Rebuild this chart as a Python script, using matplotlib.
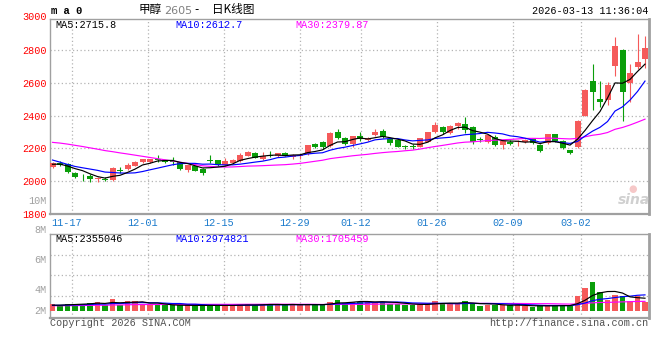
import matplotlib
matplotlib.use('Agg')
import matplotlib.pyplot as plt
import matplotlib.transforms as mtransforms
import numpy as np
import pandas as pd

# ---------------- data ----------------
date_labels = ['11-17', '12-01', '12-15', '12-29', '01-12', '01-26', '02-09', '03-02']
date_index = [3, 13, 23, 33, 41, 51, 61, 70]

opens = [2083, 2108, 2102, 2050, 2033, 2032, 2011, 2015, 2003, 2066,
         2074, 2094, 2114, 2115, 2132, 2124, 2121, 2115, 2069, 2089,
         2075, 2128, 2127, 2095, 2109, 2121, 2152, 2172, 2136, 2158,
         2152, 2174, 2145, 2150, 2164, 2226, 2236, 2213, 2299, 2265,
         2228, 2277, 2248, 2282, 2308, 2259, 2249, 2212, 2212, 2210,
         2238, 2298, 2329, 2293, 2333, 2351, 2328, 2257, 2237, 2270,
         2221, 2240, 2236, 2238, 2254, 2222, 2232, 2287, 2245, 2189,
         2209, 2400, 2609, 2500, 2497, 2700, 2798, 2597, 2695, 2745]
highs = [2115, 2122, 2110, 2052, 2045, 2042, 2025, 2022, 2086, 2085,
         2110, 2125, 2137, 2137, 2160, 2130, 2145, 2118, 2099, 2092,
         2078, 2156, 2130, 2139, 2133, 2170, 2186, 2176, 2176, 2182,
         2174, 2180, 2162, 2166, 2222, 2234, 2242, 2297, 2319, 2270,
         2276, 2299, 2270, 2320, 2320, 2262, 2255, 2220, 2224, 2262,
         2300, 2358, 2337, 2345, 2360, 2390, 2337, 2266, 2282, 2278,
         2248, 2248, 2250, 2256, 2258, 2226, 2290, 2290, 2250, 2192,
         2370, 2560, 2718, 2610, 2607, 2879, 2805, 2716, 2900, 2885]
lows = [2078, 2092, 2048, 2020, 2000, 1995, 1992, 2000, 2000, 2050,
        2067, 2092, 2112, 2111, 2115, 2110, 2095, 2068, 2055, 2058,
        2034, 2110, 2092, 2090, 2105, 2115, 2150, 2138, 2130, 2145,
        2148, 2152, 2135, 2135, 2160, 2200, 2198, 2205, 2258, 2218,
        2208, 2245, 2244, 2275, 2262, 2222, 2205, 2196, 2198, 2206,
        2236, 2295, 2285, 2290, 2320, 2295, 2225, 2238, 2233, 2214,
        2198, 2218, 2212, 2230, 2228, 2180, 2228, 2240, 2198, 2165,
        2200, 2395, 2432, 2453, 2465, 2640, 2368, 2481, 2685, 2690]
closes = [2109, 2100, 2052, 2027, 2028, 2012, 2016, 2005, 2080, 2060,
          2100, 2117, 2132, 2133, 2128, 2117, 2118, 2075, 2095, 2061,
          2050, 2124, 2095, 2121, 2129, 2160, 2178, 2140, 2152, 2153,
          2172, 2158, 2158, 2158, 2220, 2207, 2207, 2294, 2263, 2229,
          2274, 2255, 2262, 2302, 2270, 2235, 2209, 2208, 2206, 2261,
          2299, 2345, 2298, 2339, 2353, 2310, 2240, 2250, 2279, 2219,
          2245, 2226, 2246, 2250, 2233, 2186, 2287, 2246, 2204, 2173,
          2366, 2555, 2544, 2485, 2585, 2828, 2545, 2660, 2728, 2810]
# closes before the visible window (needed by the moving averages)
prior_closes = [2230, 2240, 2250, 2245, 2260, 2255, 2270, 2275, 2285, 2300,
                2330, 2345, 2350, 2340, 2335, 2320, 2310, 2300, 2285, 2275,
                2230, 2190, 2150, 2110, 2090, 2095, 2110, 2106, 2090]

volumes = [1.19, 1.00, 1.32, 1.32, 1.32, 1.51, 1.70, 1.00, 2.27, 1.00,
           1.89, 1.89, 1.32, 1.10, 1.10, 1.00, 1.00, 1.00, 1.00, 1.00,
           1.00, 1.00, 1.00, 1.00, 1.00, 1.19, 1.19, 1.00, 1.19, 1.32,
           1.19, 1.00, 1.19, 1.00, 1.32, 1.19, 1.00, 1.70, 2.08, 1.51,
           1.70, 1.70, 1.70, 1.70, 1.70, 1.32, 1.32, 1.00, 1.00, 1.32,
           1.30, 1.80, 1.45, 1.30, 1.30, 1.80, 1.45, 0.85, 1.10, 1.10,
           1.10, 1.00, 1.00, 0.85, 0.75, 1.00, 1.00, 1.00, 1.00, 0.85,
           2.80, 4.20, 5.50, 3.50, 2.10, 2.90, 2.70, 1.90, 2.70, 1.60]
prior_volumes = [0.95, 0.90, 0.85, 0.90, 0.95, 0.90, 0.85, 0.90, 0.95, 0.90,
                 0.85, 0.90, 0.95, 0.90, 0.85, 0.90, 0.95, 0.90, 0.85, 0.90,
                 1.00, 0.95, 1.00, 1.05, 1.00, 0.95, 1.00, 1.05, 1.00]

# ---------------- style ----------------
W, H = 660, 360
RED = '#F55A5A'
GREEN = '#0A9E0A'
FRAME = '#A0A0A0'
GRID = '#B4B4B4'
DATEC = '#1A7ACC'
MONO = 'Liberation Mono'
CJK = ['Noto Sans CJK SC', 'DejaVu Sans']
plt.rcParams['font.family'] = [MONO, 'DejaVu Sans']

def fx(x):
    return x / W

def fy(y):
    return 1 - y / H

fig = plt.figure(figsize=(6.6, 3.6), dpi=100)
fig.patch.set_facecolor('white')

L, R = 50, 649
ax = fig.add_axes([fx(L), fy(213.7), (R - L) / W, (213.7 - 19) / H])
axv = fig.add_axes([fx(L), fy(318.3), (R - L) / W, (318.3 - 234.3) / H])

n = len(closes)
x = np.arange(n)
o = np.array(opens, float)
h = np.array(highs, float)
lo = np.array(lows, float)
c = np.array(closes, float)
up = c >= o
cols = np.where(up, RED, GREEN)

px_per_idx = 7.5
xmin = -2.5 / px_per_idx
xmax = (R - L - 2.5) / px_per_idx

# ---- price panel ----
ax.vlines(x, lo, h, colors=cols, linewidth=0.8, zorder=3)
body_bot = np.minimum(o, c)
body_h = np.maximum(np.abs(c - o), 3.5)
ax.bar(x, body_h, bottom=body_bot - np.where(np.abs(c - o) < 3.5, 1.75, 0),
       width=0.8, color=cols, linewidth=0, zorder=4)

allc = pd.Series(prior_closes + closes, dtype=float)
k = len(prior_closes)
ma5 = allc.rolling(5).mean().values[k:]
ma10 = allc.rolling(10).mean().values[k:]
ma30 = allc.rolling(30).mean().values[k:]
ax.plot(x, ma30, color='#FF00FF', lw=0.85, zorder=5)
ax.plot(x, ma10, color='#0000FF', lw=0.85, zorder=5)
ax.plot(x, ma5, color='#000000', lw=0.85, zorder=6)

ax.set_xlim(xmin, xmax)
ax.set_ylim(1800, 2990)
price_ticks = [1800, 2000, 2200, 2400, 2600, 2800]
ax.set_yticks(price_ticks)
ax.set_yticklabels([str(t) for t in price_ticks], color='#FF0000', fontsize=7.3, family=MONO)
ax.tick_params(axis='y', length=0, pad=2.6)
for t in price_ticks[1:]:
    ax.axhline(t, color=GRID, lw=0.9, ls=(0, (1, 2)), zorder=1)
ax.text(-3.4 / (R - L), 3000, '3000', color='#FF0000', fontsize=7.3, family=MONO,
        ha='right', va='center', transform=mtransforms.blended_transform_factory(ax.transAxes, ax.transData),
        clip_on=False)

# date grid positions (sina spaces the date grid slightly wider than candles)
grid_px = [72 + (d - date_index[0]) * 7.597 for d in date_index]
grid_x = [(g - L - 2.5) / px_per_idx for g in grid_px]
for gx in grid_x:
    ax.axvline(gx, color=GRID, lw=0.9, ls=(0, (1, 2)), zorder=1)
    axv.axvline(gx, color=GRID, lw=0.9, ls=(0, (1, 2)), zorder=1)
ax.set_xticks([g - 5 / px_per_idx for g in grid_x])
ax.set_xticklabels(date_labels, color=DATEC, fontsize=7.3, family=MONO)
ax.tick_params(axis='x', length=0, pad=3.0)

for a in (ax, axv):
    for s in a.spines.values():
        s.set_color(FRAME)
        s.set_linewidth(1.0)
    a.spines['right'].set_linewidth(2.0)
    a.spines['bottom'].set_linewidth(1.6)
    a.set_facecolor('white')

# MA labels in price panel
ax_y = 24.5
fig.text(fx(55), fy(ax_y), 'MA5:2715.8', color='#000000', fontsize=7.3, family=MONO, va='center')
fig.text(fx(175), fy(ax_y), 'MA10:2612.7', color='#0000FF', fontsize=7.3, family=MONO, va='center')
fig.text(fx(295), fy(ax_y), 'MA30:2379.87', color='#FF00FF', fontsize=7.3, family=MONO, va='center')

# sina watermark
fig.text(fx(634), fy(200), 'sina', color='#D0D0D0', fontsize=10, fontstyle='italic',
         fontweight='bold', family='DejaVu Sans', ha='center', va='center')
fig.text(fx(633), fy(189), '\u25CF', color='#F6C8C8', fontsize=7, family='DejaVu Sans',
         ha='center', va='center')

# ---- volume panel ----
v = np.array(volumes) * 1e6
axv.bar(x, v, width=0.76, color=cols, linewidth=0, zorder=3)
allv = pd.Series(prior_volumes + volumes, dtype=float) * 1e6
kv = len(prior_volumes)
vma5 = allv.rolling(5).mean().values[kv:]
vma10 = allv.rolling(10).mean().values[kv:]
vma30 = allv.rolling(30).mean().values[kv:]
axv.plot(x, vma30, color='#FF00FF', lw=0.85, zorder=5)
axv.plot(x, vma10, color='#0000FF', lw=0.85, zorder=5)
axv.plot(x, vma5, color='#000000', lw=0.85, zorder=6)
vscale = 0.189e6  # volume per pixel
axv.set_xlim(xmin, xmax)
axv.set_ylim(-(318.3 - 310.7) * vscale, (310.7 - 234.3) * vscale)
axv.set_xticks([])
axv.set_yticks([])
for gy in (255, 275.3, 295.7):
    axv.axhline((310.7 - gy) * vscale, color=GRID, lw=0.9, ls=(0, (1, 2)), zorder=1)

fig.text(fx(55), fy(238.5), 'MA5:2355046', color='#000000', fontsize=7.3, family=MONO, va='center')
fig.text(fx(175), fy(238.5), 'MA10:2974821', color='#0000FF', fontsize=7.3, family=MONO, va='center')
fig.text(fx(295), fy(238.5), 'MA30:1705459', color='#FF00FF', fontsize=7.3, family=MONO, va='center')

vol_labels = ['10M', '8M', '6M', '4M', '2M']
vol_label_y = [200.5, 230.5, 260, 290, 311]
for lab, yy in zip(vol_labels, vol_label_y):
    fig.text(fx(46.5), fy(yy), lab, color='#A0A0A0', fontsize=7.3, family=MONO, ha='right', va='center')

# ---- header ----
fig.text(fx(51), fy(11.5), 'm a 0', color='#000000', fontsize=7.6, family=MONO,
         fontweight='bold', va='center')
fig.text(fx(139), fy(10), '甲醇', color='#000000', fontsize=8.4, family=CJK, va='center')
fig.text(fx(164), fy(10.5), '2605', color='#808080', fontsize=8.0, family='DejaVu Sans', va='center')
fig.text(fx(194), fy(10), '-', color='#000000', fontsize=8.4, family='DejaVu Sans', va='center')
fig.text(fx(212), fy(10), '日K线图', color='#000000', fontsize=8.4, family=CJK, va='center')
fig.text(fx(648), fy(11.5), '2026-03-13 11:36:04', color='#000000', fontsize=7.3,
         family=MONO, ha='right', va='center')

# ---- footer ----
fig.text(fx(50), fy(323.5), 'Copyright 2026 SINA.COM', color='#505050', fontsize=7.3,
         family=MONO, va='center')
fig.text(fx(648), fy(323.5), 'http://finance.sina.com.cn', color='#505050', fontsize=7.3,
         family=MONO, ha='right', va='center')

fig.savefig('out.png', dpi=100, facecolor='white')
